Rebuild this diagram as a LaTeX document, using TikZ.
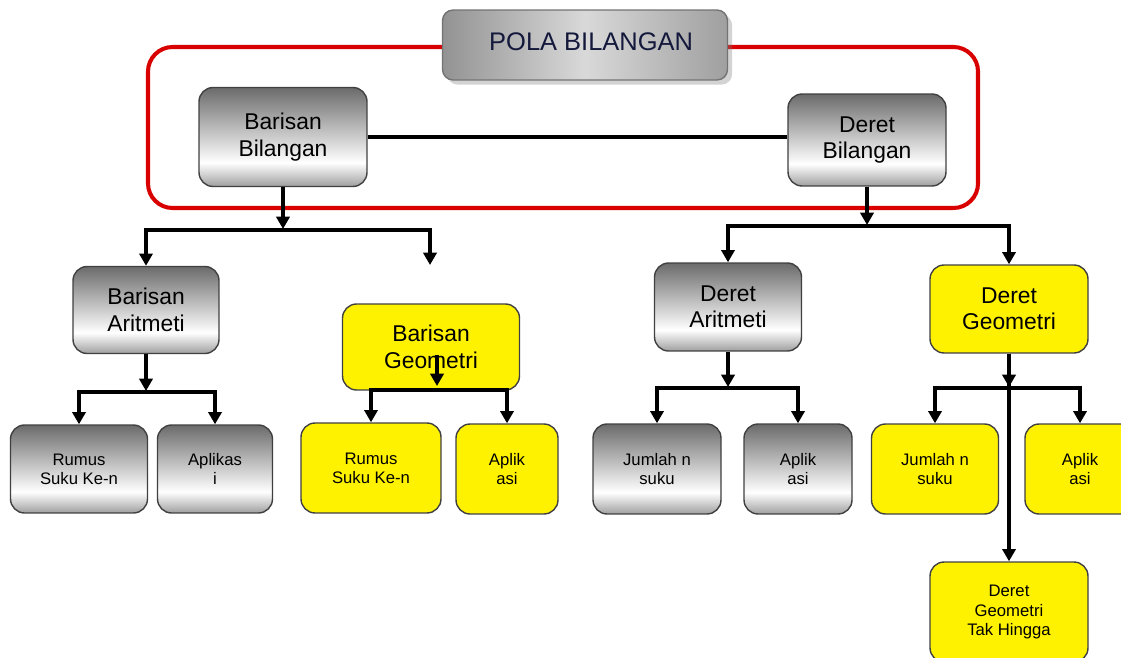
\documentclass[tikz,border=0pt]{standalone}
\usepackage{fontspec}
\setmainfont{Liberation Sans}
\usetikzlibrary{arrows.meta,shadows}
\pgfdeclareverticalshading{abushade}{100bp}{color(0bp)=(gray!75); color(25bp)=(gray!75); color(37bp)=(white); color(75bp)=(black!58); color(100bp)=(black!58)}

\begin{document}
\begin{tikzpicture}[x=0.02cm, y=-0.02cm, line join=miter, >={Triangle[width=7.5pt,length=7pt]},
    kotak/.style={draw=black!75, line width=0.8pt, rounded corners=8pt, align=center, inner sep=1pt},
    abu/.style={kotak, shade, shading=abushade},
    kuning/.style={kotak, fill=yellow},
    besar/.style={font=\fontsize{13}{15}\selectfont},
    kecil/.style={font=\fontsize{9.5}{11}\selectfont},
    garis/.style={line width=2.1pt}]
    \useasboundingbox (0,0) rectangle (1121,658);
    % bingkai merah
    \draw[red!85!black, line width=2.3pt, rounded corners=14pt] (148,47) rectangle (978,208);
    \node[kotak, draw=black!55, rounded corners=6pt, left color=gray!85, right color=gray!75, middle color=gray!30,
          drop shadow={opacity=0.35}, minimum width=5.7cm, minimum height=1.4cm,
          font=\fontsize{14.5}{16}\selectfont, text={rgb,255:red,20;green,25;blue,60}] (pola) at (585,45)
          {\raisebox{4pt}{\hspace*{7pt}POLA BILANGAN}};
    % tingkat 1
    \node[abu, besar, minimum width=3.36cm, minimum height=1.98cm] (barisan) at (283,137) {Barisan\\Bilangan};
    \node[abu, besar, minimum width=3.16cm, minimum height=1.84cm] (deret) at (867,140) {Deret\\Bilangan};
    % tingkat 2
    \node[abu, besar, minimum width=2.92cm, minimum height=1.74cm] (bArit) at (146,310) {Barisan\\Aritmeti};
    \node[kuning, besar, minimum width=3.54cm, minimum height=1.72cm] (bGeo) at (431,347) {Barisan\\Geometri};
    \node[abu, besar, minimum width=2.94cm, minimum height=1.76cm] (dArit) at (728,307) {Deret\\Aritmeti};
    \node[kuning, besar, minimum width=3.16cm, minimum height=1.76cm] (dGeo) at (1009,309) {Deret\\Geometri};
    % tingkat 3
    \node[abu, kecil, minimum width=2.74cm, minimum height=1.76cm] (rumus1) at (79,469) {Rumus\\Suku Ke-n};
    \node[abu, kecil, minimum width=2.3cm, minimum height=1.76cm] (apl1) at (215,469) {Aplikas\\i};
    \node[kuning, kecil, minimum width=2.8cm, minimum height=1.8cm] (rumus2) at (371,468) {Rumus\\Suku Ke-n};
    \node[kuning, kecil, minimum width=2.04cm, minimum height=1.8cm] (apl2) at (507,469) {Aplik\\asi};
    \node[abu, kecil, minimum width=2.56cm, minimum height=1.8cm] (jml1) at (657,469) {Jumlah n\\suku};
    \node[abu, kecil, minimum width=2.16cm, minimum height=1.8cm] (apl3) at (798,469) {Aplik\\asi};
    \node[kuning, kecil, minimum width=2.54cm, minimum height=1.8cm] (jml2) at (935,469) {Jumlah n\\suku};
    \node[kuning, kecil, minimum width=2.2cm, minimum height=1.8cm] (apl4) at (1080,469) {Aplik\\asi};
    \node[kuning, kecil, minimum width=3.16cm, minimum height=2cm] (dgth) at (1009,612) {Deret\\Geometri\\Tak Hingga};
    % garis penghubung
    \draw[garis] (barisan.east) -- (barisan.east -| deret.west);
    \draw[garis,->] (barisan.south) -- (283,229);
    \draw[garis,<->] (bArit.north) |- (430,230) -- (430,265);
    \draw[garis,->] (deret.south) -- (867,225);
    \draw[garis,<->] (dArit.north) |- (1009,226) -- (dGeo.north);
    \draw[garis,->] (bArit.south) -- (146,391);
    \draw[garis,<->] (rumus1.north) |- (215,392) -- (apl1.north);
    \draw[garis,->] (bGeo.center) ++(6,8) -- ++(0,31);
    \draw[garis,<->] (rumus2.north) |- (507,390) -- (apl2.north);
    \draw[garis,->] (dArit.south) -- (728,387);
    \draw[garis,<->] (jml1.north) |- (798,388) -- (apl3.north);
    \draw[garis,->] (dGeo.south) -- (1009,387);
    \draw[garis,<->] (jml2.north) |- (1080,388) -- (apl4.north);
    \draw[garis,->] (dGeo.south) -- (dgth.north);
\end{tikzpicture}
\end{document}
